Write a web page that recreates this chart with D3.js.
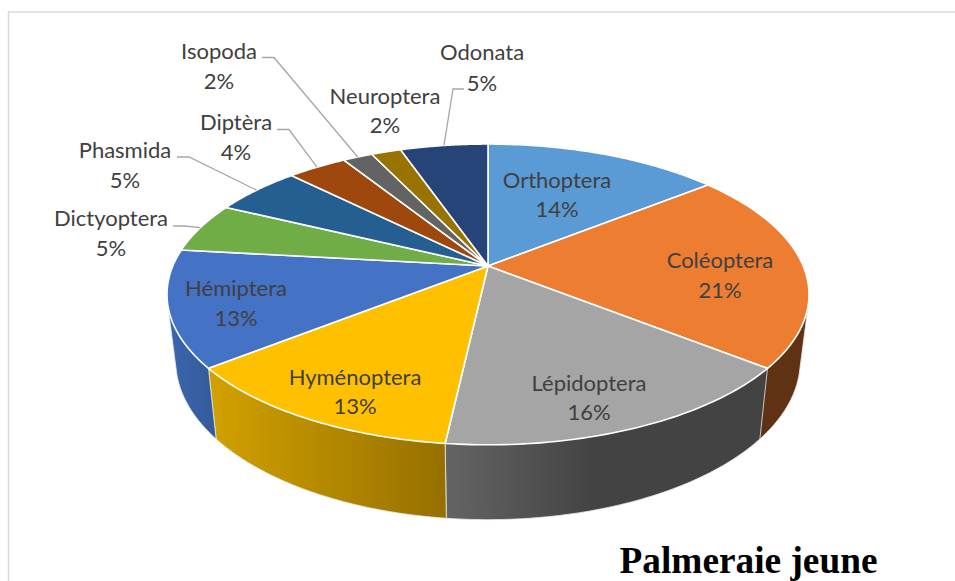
<!DOCTYPE html>
<html>
<head>
<meta charset="utf-8">
<script src="https://cdn.jsdelivr.net/npm/d3@7"></script>
<style>
  html, body { margin: 0; background: #fff; }
  svg { display: block; }
</style>
</head>
<body>
<svg id="chart"></svg>
<script>
// data
const names = ['Orthoptera', 'Coléoptera', 'Lépidoptera', 'Hyménoptera', 'Hémiptera', 'Dictyoptera', 'Phasmida', 'Diptèra', 'Isopoda', 'Neuroptera', 'Odonata'];
const values = [14.25, 21.45, 16.06, 12.54, 12.5, 5.4, 5.3, 3.6, 1.8, 1.8, 5.3];
const percentLabels = ['14%', '21%', '16%', '13%', '13%', '5%', '5%', '4%', '2%', '2%', '5%'];
const title = 'Palmeraie jeune';

// styles
const colors = ['#5B9BD5', '#ED7D31', '#A5A5A5', '#FFC000', '#4472C4', '#70AD47', '#255E91', '#9E480E', '#636363', '#997300', '#264478'];
const sideStops = [
  ['#5f3213', '#5f3213'], ['#5f3213', '#5f3213'], ['#646464', '#434343'], ['#d2a100', '#967000'], ['#3a66b0', '#365c9c'],
  ['#436829', '#436829'], ['#163857', '#163857'], ['#5f2b08', '#5f2b08'], ['#3b3b3b', '#3b3b3b'], ['#5c4500', '#5c4500'], ['#172948', '#172948']
];

// label layout: centre x, name baseline, percent baseline
const labelPos = [[557, 188, 217], [720, 268, 298], [589, 391, 420], [355, 385, 414], [236, 296, 326], [111, 226, 256], [125, 158, 188], [236, 130, 160], [219, 59, 89], [385, 104, 133], [482, 60, 91]];
// leader elbows [slice index, start, elbow]; the end sits on the rim
const leaders = [
  [5, [173, 226], [185, 226]],
  [6, [177, 157], [189, 157]],
  [7, [277, 129.5], [289, 129.5]],
  [8, [262, 57.5], [274, 57.5]],
  [10, [464, 89], [453, 89]]
];

const width = 955, height = 581;
const svg = d3.select('#chart').attr('width', width).attr('height', height);

// perspective projection of the circle
const top3d = { cx: 488, cy: 266, rx: 315.2, ry: 145, k: 0.189 };
const base3d = { cx: 488, cy: 331, rx: 306.6, ry: 153, k: 0.189 };
const project = (p, a) => {
  const w = 1 + p.k * Math.cos(a);
  return [p.cx + p.rx * Math.sin(a) / w, p.cy - p.ry * Math.cos(a) / w];
};
const rim = (p, a0, a1) => d3.range(0, 61).map(i => project(p, a0 + (a1 - a0) * i / 60));

const slices = d3.pie().value(d => d).sort(null)(values);
const line = d3.line();

const defs = svg.append('defs');
slices.forEach((d, i) => {
  const xs = rim(top3d, d.startAngle, d.endAngle).map(q => q[0]);
  const grad = defs.append('linearGradient')
    .attr('id', `side${i}`)
    .attr('gradientUnits', 'userSpaceOnUse')
    .attr('x1', d3.min(xs)).attr('x2', i === 2 ? d3.min(xs) + 150 : d3.max(xs))
    .attr('y1', 0).attr('y2', 0);
  grad.append('stop').attr('offset', 0).attr('stop-color', sideStops[i][0]);
  grad.append('stop').attr('offset', 1).attr('stop-color', sideStops[i][1]);
});

// frame
svg.append('path')
  .attr('d', line([[8.5, height], [8.5, 12], [width, 12]]))
  .attr('fill', 'none').attr('stroke', '#d9d9d9').attr('stroke-width', 1.5);

// side wall, hull so the silhouette follows the tangent between both rims
svg.append('g').selectAll('path')
  .data(slices)
  .join('path')
  .attr('d', d => line(d3.polygonHull([...rim(top3d, d.startAngle, d.endAngle), ...rim(base3d, d.startAngle, d.endAngle)])) + 'Z')
  .attr('fill', (d, i) => `url(#side${i})`)
  .attr('stroke', '#e8e8e8').attr('stroke-width', 0.8).attr('stroke-linejoin', 'round');

// top face
svg.append('g').selectAll('path')
  .data(slices)
  .join('path')
  .attr('d', d => line([[top3d.cx, top3d.cy], ...rim(top3d, d.startAngle, d.endAngle)]) + 'Z')
  .attr('fill', (d, i) => colors[i])
  .attr('stroke', '#fff').attr('stroke-width', 1.6).attr('stroke-linejoin', 'round');

// leader lines
svg.append('g').selectAll('path')
  .data(leaders)
  .join('path')
  .attr('d', d => {
    const s = slices[d[0]];
    return line([d[1], d[2], project(top3d, (s.startAngle + s.endAngle) / 2)]);
  })
  .attr('fill', 'none').attr('stroke', '#a6a6a6').attr('stroke-width', 1.3);

// labels
const labels = svg.append('g')
  .attr('font-family', 'Lato, sans-serif')
  .attr('font-size', 22)
  .attr('fill', '#404040')
  .attr('text-anchor', 'middle');
labels.selectAll('text.name').data(names).join('text')
  .attr('class', 'name')
  .attr('x', (d, i) => labelPos[i][0]).attr('y', (d, i) => labelPos[i][1])
  .text(d => d);
labels.selectAll('text.pct').data(percentLabels).join('text')
  .attr('class', 'pct')
  .attr('x', (d, i) => labelPos[i][0]).attr('y', (d, i) => labelPos[i][2])
  .text(d => d);

svg.append('text')
  .attr('x', 748.5).attr('y', 573)
  .attr('text-anchor', 'middle')
  .attr('font-family', '"Liberation Serif", serif')
  .attr('font-weight', 'bold')
  .attr('font-size', 37.3)
  .attr('fill', '#000')
  .text(title);
</script>
</body>
</html>
